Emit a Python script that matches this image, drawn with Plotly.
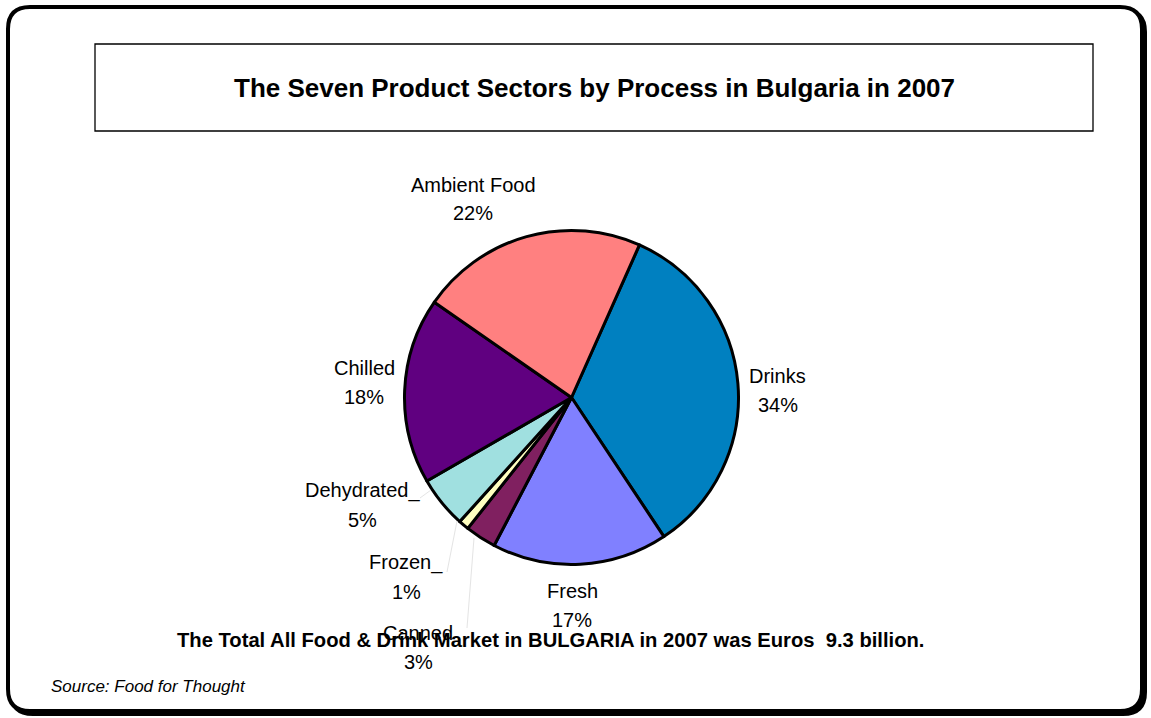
import plotly.graph_objects as go

# ---- data ----
categories = ["Drinks", "Fresh", "Canned", "Frozen", "Dehydrated", "Chilled", "Ambient Food"]
shares = [34, 17, 3, 1, 5, 18, 22]
label_suffix = ["", "", "", "_", "_", "", ""]
colors = ["#0080C0", "#8080FF", "#802060", "#FFFFC0", "#A0E0E0", "#600080", "#FF8080"]

title_text = "The Seven Product Sectors by Process in Bulgaria in 2007"
total_text = "The Total All Food & Drink Market in BULGARIA in 2007 was Euros  9.3 billion."
source_text = "Source: Food for Thought"

W, H = 1151, 718


def px(x):
    return x / W


def py(y):
    return 1 - y / H


# pie geometry (pixels)
cx, cy, r = 571.5, 397.5, 167
fig = go.Figure()
fig.add_trace(go.Pie(
    labels=categories,
    values=shares,
    sort=False,
    direction="clockwise",
    rotation=24,
    textinfo="none",
    hoverinfo="label+percent",
    marker=dict(colors=colors, line=dict(color="black", width=3)),
    domain=dict(x=[px(cx - r), px(cx + r)], y=[py(cy + r), py(cy - r)]),
    showlegend=False,
))

# label positions (pixels) for each category (centre of two-line block)
label_pos = [(778, 390), (572, 605), (418, 647), (406, 577), (362, 505), (364, 382), (473, 199)]
LINE = 14.5
lab_font = dict(family="Liberation Sans, Arial", size=20, color="black")

annotations = []
for name, val, suf, (lx, ly) in zip(categories, shares, label_suffix, label_pos):
    annotations.append(dict(
        x=px(lx), y=py(ly - LINE), xref="paper", yref="paper",
        text=f"{name}{suf}", showarrow=False, font=lab_font,
        xanchor="center", yanchor="middle",
    ))
    annotations.append(dict(
        x=px(lx), y=py(ly + LINE), xref="paper", yref="paper",
        text=f"{val}%", showarrow=False, font=lab_font,
        xanchor="center", yanchor="middle",
    ))

annotations.append(dict(
    x=px(594), y=py(88), xref="paper", yref="paper", text=f"<b>{title_text}</b>",
    showarrow=False, font=dict(family="Liberation Sans, Arial", size=26, color="black"),
    xanchor="center", yanchor="middle",
))
annotations.append(dict(
    x=px(550), y=py(640), xref="paper", yref="paper", text=f"<b>{total_text}</b>",
    showarrow=False, font=dict(family="Liberation Sans, Arial", size=20.2, color="black"),
    xanchor="center", yanchor="middle",
))
annotations.append(dict(
    x=px(49), y=py(686), xref="paper", yref="paper", text=f"<i>{source_text}</i>",
    showarrow=False, font=dict(family="Liberation Sans, Arial", size=17, color="black"),
    xanchor="left", yanchor="middle",
))


def rrect(x0, y0, x1, y1, rad):
    return (f"M {px(x0 + rad)},{py(y0)} L {px(x1 - rad)},{py(y0)} "
            f"Q {px(x1)},{py(y0)} {px(x1)},{py(y0 + rad)} "
            f"L {px(x1)},{py(y1 - rad)} Q {px(x1)},{py(y1)} {px(x1 - rad)},{py(y1)} "
            f"L {px(x0 + rad)},{py(y1)} Q {px(x0)},{py(y1)} {px(x0)},{py(y1 - rad)} "
            f"L {px(x0)},{py(y0 + rad)} Q {px(x0)},{py(y0)} {px(x0 + rad)},{py(y0)} Z")


shapes = [
    # shadow
    dict(type="path", path=rrect(11, 10, 1145, 714, 22), xref="paper", yref="paper",
         line=dict(color="black", width=4), fillcolor="black", layer="below"),
    # main frame
    dict(type="path", path=rrect(8, 7, 1142, 711, 22), xref="paper", yref="paper",
         line=dict(color="black", width=4), fillcolor="white", layer="below"),
    # title box
    dict(type="rect", x0=px(95), x1=px(1093), y0=py(131), y1=py(44), xref="paper", yref="paper",
         line=dict(color="black", width=1.3), fillcolor="white", layer="below"),
    # faint leader lines
    dict(type="line", x0=px(420), y0=py(498), x1=px(431), y1=py(490), xref="paper", yref="paper",
         line=dict(color="#e4e4e4", width=1)),
    dict(type="line", x0=px(447), y0=py(572), x1=px(457), y1=py(521), xref="paper", yref="paper",
         line=dict(color="#e4e4e4", width=1)),
    dict(type="line", x0=px(467), y0=py(628), x1=px(474), y1=py(538), xref="paper", yref="paper",
         line=dict(color="#e4e4e4", width=1)),
]

fig.update_layout(
    width=W, height=H,
    margin=dict(l=0, r=0, t=0, b=0),
    paper_bgcolor="white", plot_bgcolor="white",
    annotations=annotations, shapes=shapes,
)

fig.write_html("out.html", config={"displayModeBar": False},
               post_script="document.body.style.margin='0px';")
